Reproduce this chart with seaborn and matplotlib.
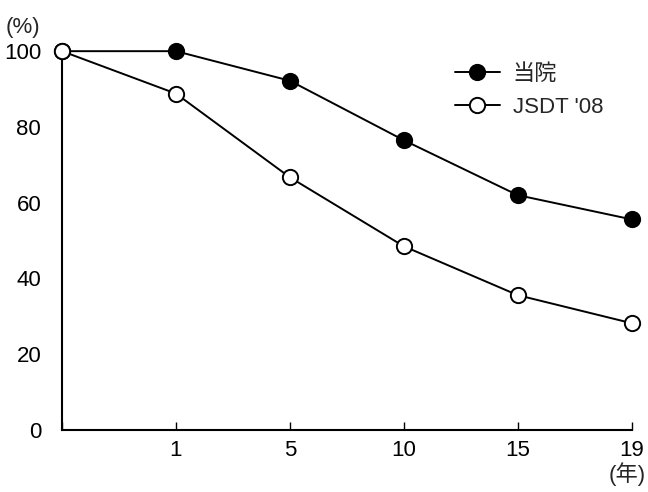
import matplotlib
matplotlib.use("Agg")
import matplotlib.pyplot as plt
import seaborn as sns
import pandas as pd

sns.set_theme(style="white")
plt.rcParams['font.family'] = ['Liberation Sans', 'Noto Sans CJK JP', 'DejaVu Sans']

years = ["0", "1", "5", "10", "15", "19"]
tick_labels = ["", "1", "5", "10", "15", "19"]
hospital = [100, 100, 92.2, 76.5, 62.0, 55.6]
jsdt08 = [100, 88.8, 66.7, 48.5, 35.6, 28.2]

df = pd.DataFrame({
    "pos": list(range(len(years))) * 2,
    "rate": hospital + jsdt08,
    "group": ["当院"] * len(years) + ["JSDT '08"] * len(years),
})

fig = plt.figure(figsize=(6.48, 4.92), dpi=100)
ax = fig.add_axes([0.0957, 0.126, 0.879, 0.77])

styles = {"当院": "black", "JSDT '08": "white"}
for name, fc in styles.items():
    sub = df[df["group"] == name]
    sns.lineplot(data=sub, x="pos", y="rate", ax=ax, color="black", linewidth=1.4,
                 marker="o", markersize=11, markerfacecolor=fc, markeredgecolor="black",
                 markeredgewidth=1.4, label=name, clip_on=False, zorder=3)

ax.set_xlim(0, 5)
ax.set_ylim(0, 100)
ax.set_xticks(range(len(years)))
ax.set_xticklabels(tick_labels, fontsize=16)
ax.set_yticks([0, 20, 40, 60, 80, 100])
ax.set_yticklabels(["0", "20", "40", "60", "80", "100"], fontsize=16)
ax.tick_params(axis="x", bottom=True, direction="in", length=6, width=1, color="black",
               pad=7, labelcolor="black")
ax.tick_params(axis="y", left=False, pad=9, labelcolor="black")
ax.set_xlabel("")
ax.set_ylabel("")
for s in ["top", "right"]:
    ax.spines[s].set_visible(False)
for s in ["left", "bottom"]:
    ax.spines[s].set_color("black")
    ax.spines[s].set_linewidth(1.5)

fig.text(0.008, 0.922, "(%)", fontsize=16, ha="left", va="bottom")
fig.text(0.997, 0.012, "(年)", fontsize=16, ha="right", va="bottom")

leg = ax.legend(loc="upper left", bbox_to_anchor=(0.655, 1.02), frameon=False,
                fontsize=16, handlelength=2.0, labelspacing=0.55, handletextpad=0.6)

fig.savefig("out.png", dpi=100)
